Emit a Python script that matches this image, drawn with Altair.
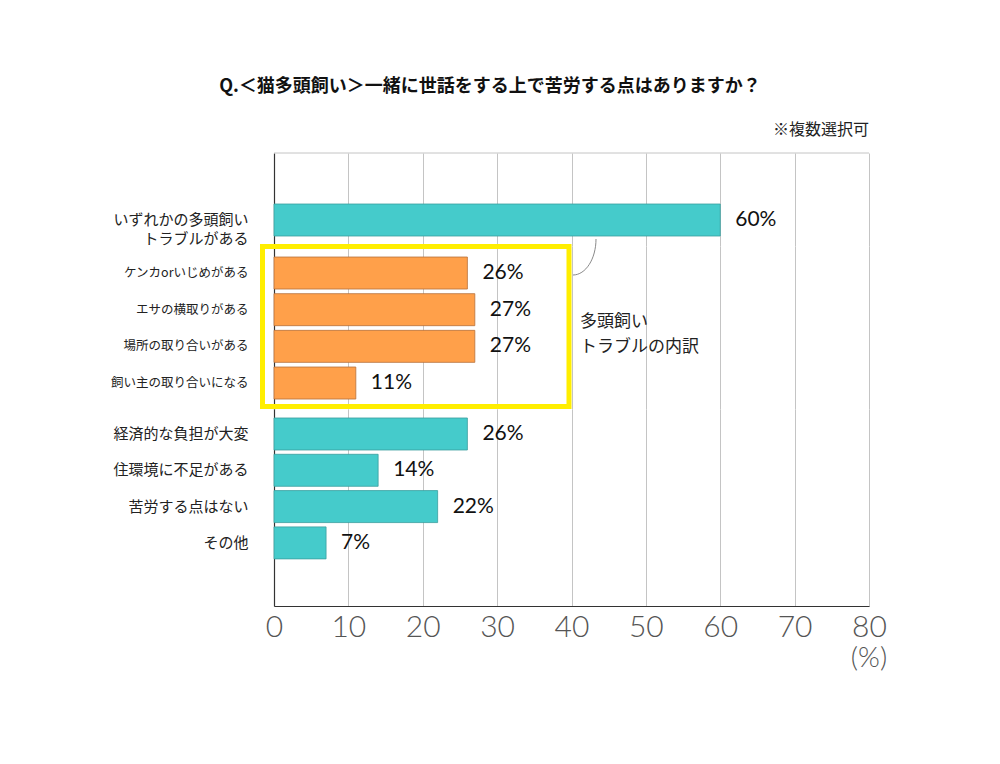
import altair as alt
import pandas as pd

title_text = "Q.＜猫多頭飼い＞一緒に世話をする上で苦労する点はありますか？"
note_text = "※複数選択可"
box_text = "多頭飼い\nトラブルの内訳"
unit_text = "(%)"

top_labels = ["いずれかの多頭飼い\nトラブルがある"]
top_values = [60]
sub_labels = ["ケンカorいじめがある", "エサの横取りがある", "場所の取り合いがある", "飼い主の取り合いになる"]
sub_values = [26, 27, 27, 11]
rest_labels = ["経済的な負担が大変", "住環境に不足がある", "苦労する点はない", "その他"]
rest_values = [26, 14, 22, 7]
x_ticks = [0, 10, 20, 30, 40, 50, 60, 70, 80]

TEAL = "#45CBCB"
TEAL_EDGE = "#3a9e9e"
ORANGE = "#FFA04A"
ORANGE_EDGE = "#b8703a"
GRID = "#c4c4c4"
JP = "Noto Sans CJK JP"
NUM = "Lato"
W = 595


def make_df(labels, values):
    return pd.DataFrame({"label": labels, "value": values,
                         "pct": [f"{v}%" for v in values]})


def panel(labels, values, height, label_size, po, al, color, edge, bottom_axis):
    df = make_df(labels, values)
    if bottom_axis:
        xaxis = alt.Axis(values=x_ticks, grid=True, gridColor=GRID, ticks=False,
                         domain=True, domainColor="#333333", domainWidth=1.2,
                         labelFontSize=30, labelFont=NUM, labelFontWeight=300,
                         labelColor="#555555", labelPadding=6, title=None,
                         labelFlush=False)
    else:
        xaxis = alt.Axis(values=x_ticks, grid=True, gridColor=GRID, ticks=False,
                         domain=False, labels=False, title=None)
    x = alt.X("value:Q", scale=alt.Scale(domain=[0, 80], nice=False), axis=xaxis)
    y = alt.Y("label:N", sort=labels,
              scale=alt.Scale(domain=labels, paddingInner=0, paddingOuter=po, align=al),
              axis=alt.Axis(title=None, ticks=False, domain=True, domainColor="#333333",
                            domainWidth=1.2, labelFont=JP, labelFontSize=label_size,
                            labelColor="#222222", labelPadding=26, labelLimit=0,
                            labelLineHeight=19, grid=False,
                            labelExpr="split(datum.label, '\\n')"))
    bars = alt.Chart(df).mark_bar(size=32, color=color, stroke=edge, strokeWidth=0.8).encode(x=x, y=y)
    txt = alt.Chart(df).mark_text(align="left", baseline="middle", dx=15, fontSize=21,
                                  font=NUM, color="#111111").encode(x=x, y=y, text="pct:N")
    return bars, txt


a_bars, a_txt = panel(top_labels, top_values, 93, 15, 0.774, 0.863, TEAL, TEAL_EDGE, False)
b_bars, b_txt = panel(sub_labels, sub_values, 163, 12.5, 0.2225, 0.532, ORANGE, ORANGE_EDGE, False)
c_bars, c_txt = panel(rest_labels, rest_values, 197, 15, 0.7135, 0.132, TEAL, TEAL_EDGE, True)

title_mark = alt.Chart(pd.DataFrame({"t": [title_text]})).mark_text(
    font=JP, fontSize=18, fontWeight="bold", color="#111111",
    align="center", baseline="middle").encode(text="t:N", x=alt.value(216), y=alt.value(-66))
note_mark = alt.Chart(pd.DataFrame({"t": [note_text]})).mark_text(
    font=JP, fontSize=16, color="#222222", align="right", baseline="middle").encode(
    text="t:N", x=alt.value(W), y=alt.value(-23))
top_rule = alt.Chart(pd.DataFrame({"t": [0]})).mark_rule(color=GRID, strokeWidth=1).encode(
    x=alt.value(0), x2=alt.value(W), y=alt.value(0))

panel_a = alt.layer(a_bars, a_txt, top_rule, title_mark, note_mark).properties(width=W, height=93)

box = alt.Chart(pd.DataFrame({"t": [0]})).mark_rect(
    fillOpacity=0, stroke="#FFEE00", strokeWidth=5).encode(
    x=alt.value(-11.5), x2=alt.value(295), y=alt.value(0.5), y2=alt.value(160.5))
bracket = alt.Chart(pd.DataFrame({"t": [0]})).mark_point(
    shape="M0,-1 C0,0.104 -0.573,1 -1.28,1", size=1296, filled=False,
    stroke="#8a8a8a", strokeWidth=1, opacity=1).encode(
    x=alt.value(322), y=alt.value(11))
box_label = alt.Chart(pd.DataFrame({"t": [box_text]})).mark_text(
    font=JP, fontSize=17, color="#222222", align="left", baseline="middle",
    lineBreak="\n", lineHeight=25).encode(
    text="t:N", x=alt.value(306), y=alt.value(76))

panel_b = alt.layer(b_bars, b_txt, box, bracket, box_label).properties(width=W, height=163)

unit_mark = alt.Chart(pd.DataFrame({"t": [unit_text]})).mark_text(
    font=NUM, fontSize=28, fontWeight=300, color="#555555", align="center",
    baseline="middle").encode(text="t:N", x=alt.value(W), y=alt.value(250))

panel_c = alt.layer(c_bars, c_txt, unit_mark).properties(width=W, height=197)

chart = alt.vconcat(panel_a, panel_b, panel_c, spacing=0, bounds="flush").properties(
    padding={"left": 102, "top": 70, "right": 20, "bottom": 20},
    background="white",
).configure_view(stroke="transparent", strokeWidth=0)

chart.save("out.html", embed_options={"renderer": "svg", "actions": False})
